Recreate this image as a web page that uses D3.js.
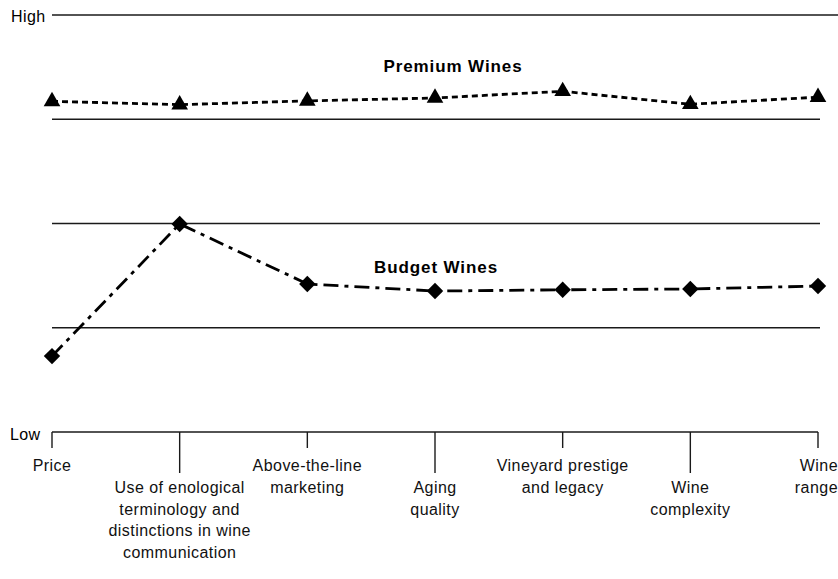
<!DOCTYPE html>
<html>
<head>
<meta charset="utf-8">
<script src="https://cdn.jsdelivr.net/npm/d3@7"></script>
<style>
  body { margin: 0; background: #fff; }
  svg { display: block; font-family: "Liberation Sans", Arial, Helvetica, sans-serif; }
</style>
</head>
<body>
<div id="chart"></div>
<script>
// criteria along the bottom, each label split in lines
var criteria = ["Price", "Enology", "Marketing", "Aging", "Vineyard", "Complexity", "Range"];
var criteriaLabels = [
  ["Price"],
  ["Use of enological", "terminology and", "distinctions in wine", "communication"],
  ["Above-the-line", "marketing"],
  ["Aging", "quality"],
  ["Vineyard prestige", "and legacy"],
  ["Wine", "complexity"],
  ["Wine", "range"]
];
// which label row (0 = high, 1 = staggered lower)
var labelRows = [0, 1, 0, 1, 0, 1, 0];

// 0 = Low, 10 = High
var premium = [7.93, 7.85, 7.94, 8.01, 8.17, 7.86, 8.03];
var budget = [1.82, 4.99, 3.55, 3.38, 3.41, 3.43, 3.5];
var gridValues = [2.5, 5, 7.5];

var width = 838, height = 579;

var svg = d3.select("#chart").append("svg")
  .attr("width", width)
  .attr("height", height);

var x = d3.scalePoint()
  .domain(criteria)
  .range([52, 818]);

var y = d3.scaleLinear()
  .domain([0, 10])
  .range([432, 15]);

// High line
svg.append("line")
  .attr("x1", 52).attr("x2", 838)
  .attr("y1", y(10)).attr("y2", y(10))
  .style("stroke", "#1a1a1a").style("stroke-width", 1.4);
svg.append("text")
  .attr("x", 11).attr("y", y(10) + 7)
  .style("font-size", "16px")
  .style("letter-spacing", "0.4px")
  .text("High");

// inner guide lines
svg.selectAll("line.grid")
  .data(gridValues)
  .enter()
  .append("line")
  .classed("grid", true)
  .attr("x1", 52).attr("x2", 820)
  .attr("y1", function(d){ return y(d); })
  .attr("y2", function(d){ return y(d); })
  .style("stroke", "#1a1a1a")
  .style("stroke-width", 1.4);

// Low axis with ticks
svg.append("line")
  .attr("x1", x(criteria[0])).attr("x2", x(criteria[criteria.length - 1]))
  .attr("y1", y(0)).attr("y2", y(0))
  .style("stroke", "#1a1a1a").style("stroke-width", 1.4);
svg.append("text")
  .attr("x", 10).attr("y", y(0) + 8)
  .style("font-size", "16px")
  .style("letter-spacing", "0.4px")
  .text("Low");

svg.selectAll("line.tick")
  .data(criteria)
  .enter()
  .append("line")
  .classed("tick", true)
  .attr("x1", function(d){ return x(d); })
  .attr("x2", function(d){ return x(d); })
  .attr("y1", y(0))
  .attr("y2", function(d, i){ return y(0) + (labelRows[i] ? 41 : 16); })
  .style("stroke", "#1a1a1a")
  .style("stroke-width", 1.4);

// category labels
var labels = svg.selectAll("text.cat")
  .data(criteria)
  .enter()
  .append("text")
  .classed("cat", true)
  .attr("text-anchor", function(d, i){ return i === criteria.length - 1 ? "end" : "middle"; })
  .attr("x", function(d, i){ return i === criteria.length - 1 ? 838 : x(d); })
  .attr("y", function(d, i){ return labelRows[i] ? 493 : 471; })
  .style("font-size", "16px")
  .style("letter-spacing", "0.45px")
  .style("fill", "#111");

labels.each(function(d, i){
  var t = d3.select(this);
  var tx = t.attr("x");
  criteriaLabels[i].forEach(function(line, k){
    t.append("tspan")
      .attr("x", tx)
      .attr("dy", k === 0 ? 0 : 21.7)
      .text(line);
  });
});

// series lines
var line = d3.line()
  .x(function(d, i){ return x(criteria[i]); })
  .y(function(d){ return y(d); });

svg.append("path")
  .datum(premium)
  .attr("d", line)
  .style("fill", "none")
  .style("stroke", "#000")
  .style("stroke-width", 2.8)
  .style("stroke-dasharray", "6,4");

svg.append("path")
  .datum(budget)
  .attr("d", line)
  .style("fill", "none")
  .style("stroke", "#000")
  .style("stroke-width", 2.8)
  .style("stroke-dasharray", "15,6,4,6");

// markers
var tri = d3.symbol().type(d3.symbolTriangle).size(120);
svg.selectAll("path.tri")
  .data(premium)
  .enter()
  .append("path")
  .classed("tri", true)
  .attr("d", tri)
  .attr("transform", function(d, i){ return "translate(" + x(criteria[i]) + "," + y(d) + ")"; })
  .style("fill", "#000");

var dia = d3.symbol().type(d3.symbolSquare).size(135);
svg.selectAll("path.dia")
  .data(budget)
  .enter()
  .append("path")
  .classed("dia", true)
  .attr("d", dia)
  .attr("transform", function(d, i){ return "translate(" + x(criteria[i]) + "," + y(d) + ") rotate(45)"; })
  .style("fill", "#000");

// series titles
svg.append("text")
  .attr("x", 453).attr("y", 72)
  .attr("text-anchor", "middle")
  .style("font-size", "17px").style("font-weight", "bold")
  .style("letter-spacing", "0.9px")
  .text("Premium Wines");
svg.append("text")
  .attr("x", 436).attr("y", 273)
  .attr("text-anchor", "middle")
  .style("font-size", "17px").style("font-weight", "bold")
  .style("letter-spacing", "0.9px")
  .text("Budget Wines");
</script>
</body>
</html>
